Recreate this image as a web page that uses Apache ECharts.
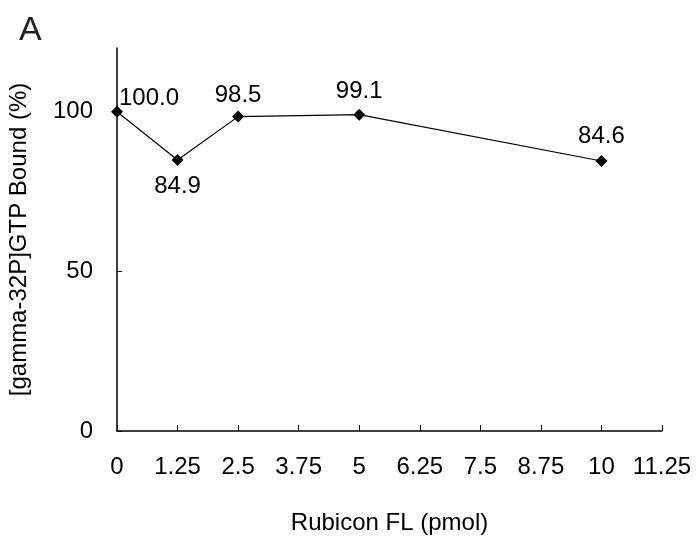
<!DOCTYPE html>
<html>
<head>
<meta charset="utf-8">
<script src="https://cdn.jsdelivr.net/npm/echarts@6/dist/echarts.min.js"></script>
<style>
  html, body { margin: 0; padding: 0; background: #fff; }
  #chart { width: 699px; height: 541px; }
</style>
</head>
<body>
<div id="chart"></div>
<script>
// 数据
const doses = [0, 1.25, 2.5, 5, 10];
const bound = [100.0, 84.9, 98.5, 99.1, 84.6];
const labelText = ['100.0', '84.9', '98.5', '99.1', '84.6'];
const yTicks = [0, 50, 100];

const font = 'Liberation Sans, Arial, Helvetica, sans-serif';

const chart = echarts.init(document.getElementById('chart'));

// 每个点的标签位置微调
const labelPos = [
    { position: 'top', distance: 0, offset: [32, 5] },
    { position: 'bottom', distance: 8 },
    { position: 'top', distance: 3 },
    { position: 'top', distance: 5 },
    { position: 'top', distance: 7 }
];

const points = doses.map((d, i) => ({
    value: [d, bound[i]],
    label: Object.assign({ formatter: labelText[i] }, labelPos[i])
}));

chart.setOption({
    animation: false,
    title: {
        text: 'A',
        left: 14,
        top: 9,
        textStyle: { fontFamily: font, fontSize: 34, fontWeight: 'normal', color: '#231f20' }
    },
    grid: { left: 117, right: 37, top: 48, bottom: 110, outerBoundsMode: 'none' },
    xAxis: {
        type: 'value',
        min: 0,
        max: 11.25,
        interval: 1.25,
        name: 'Rubicon FL (pmol)',
        nameLocation: 'middle',
        nameGap: 80,
        nameTextStyle: { fontFamily: font, fontSize: 24, color: '#000' },
        axisLine: { lineStyle: { color: '#000', width: 1.5 } },
        axisTick: { inside: true, length: 6, lineStyle: { color: '#000' } },
        axisLabel: { fontFamily: font, fontSize: 24, color: '#000', margin: 24 },
        splitLine: { show: false }
    },
    yAxis: {
        type: 'value',
        min: 0,
        max: 120,
        name: '[gamma-32P]GTP Bound (%)',
        nameLocation: 'middle',
        nameGap: 86,
        nameTextStyle: { fontFamily: font, fontSize: 24, color: '#000' },
        axisLine: { show: true, lineStyle: { color: '#000', width: 1.5 } },
        axisTick: { show: true, inside: true, length: 5, customValues: yTicks, lineStyle: { color: '#000' } },
        axisLabel: { fontFamily: font, fontSize: 24, color: '#000', margin: 24, customValues: yTicks },
        splitLine: { show: false }
    },
    series: [{
        type: 'line',
        data: points,
        symbol: 'diamond',
        symbolSize: 12,
        lineStyle: { color: '#000', width: 1.2 },
        itemStyle: { color: '#000' },
        label: {
            show: true,
            fontFamily: font,
            fontSize: 24,
            color: '#000'
        }
    }]
});
</script>
</body>
</html>
